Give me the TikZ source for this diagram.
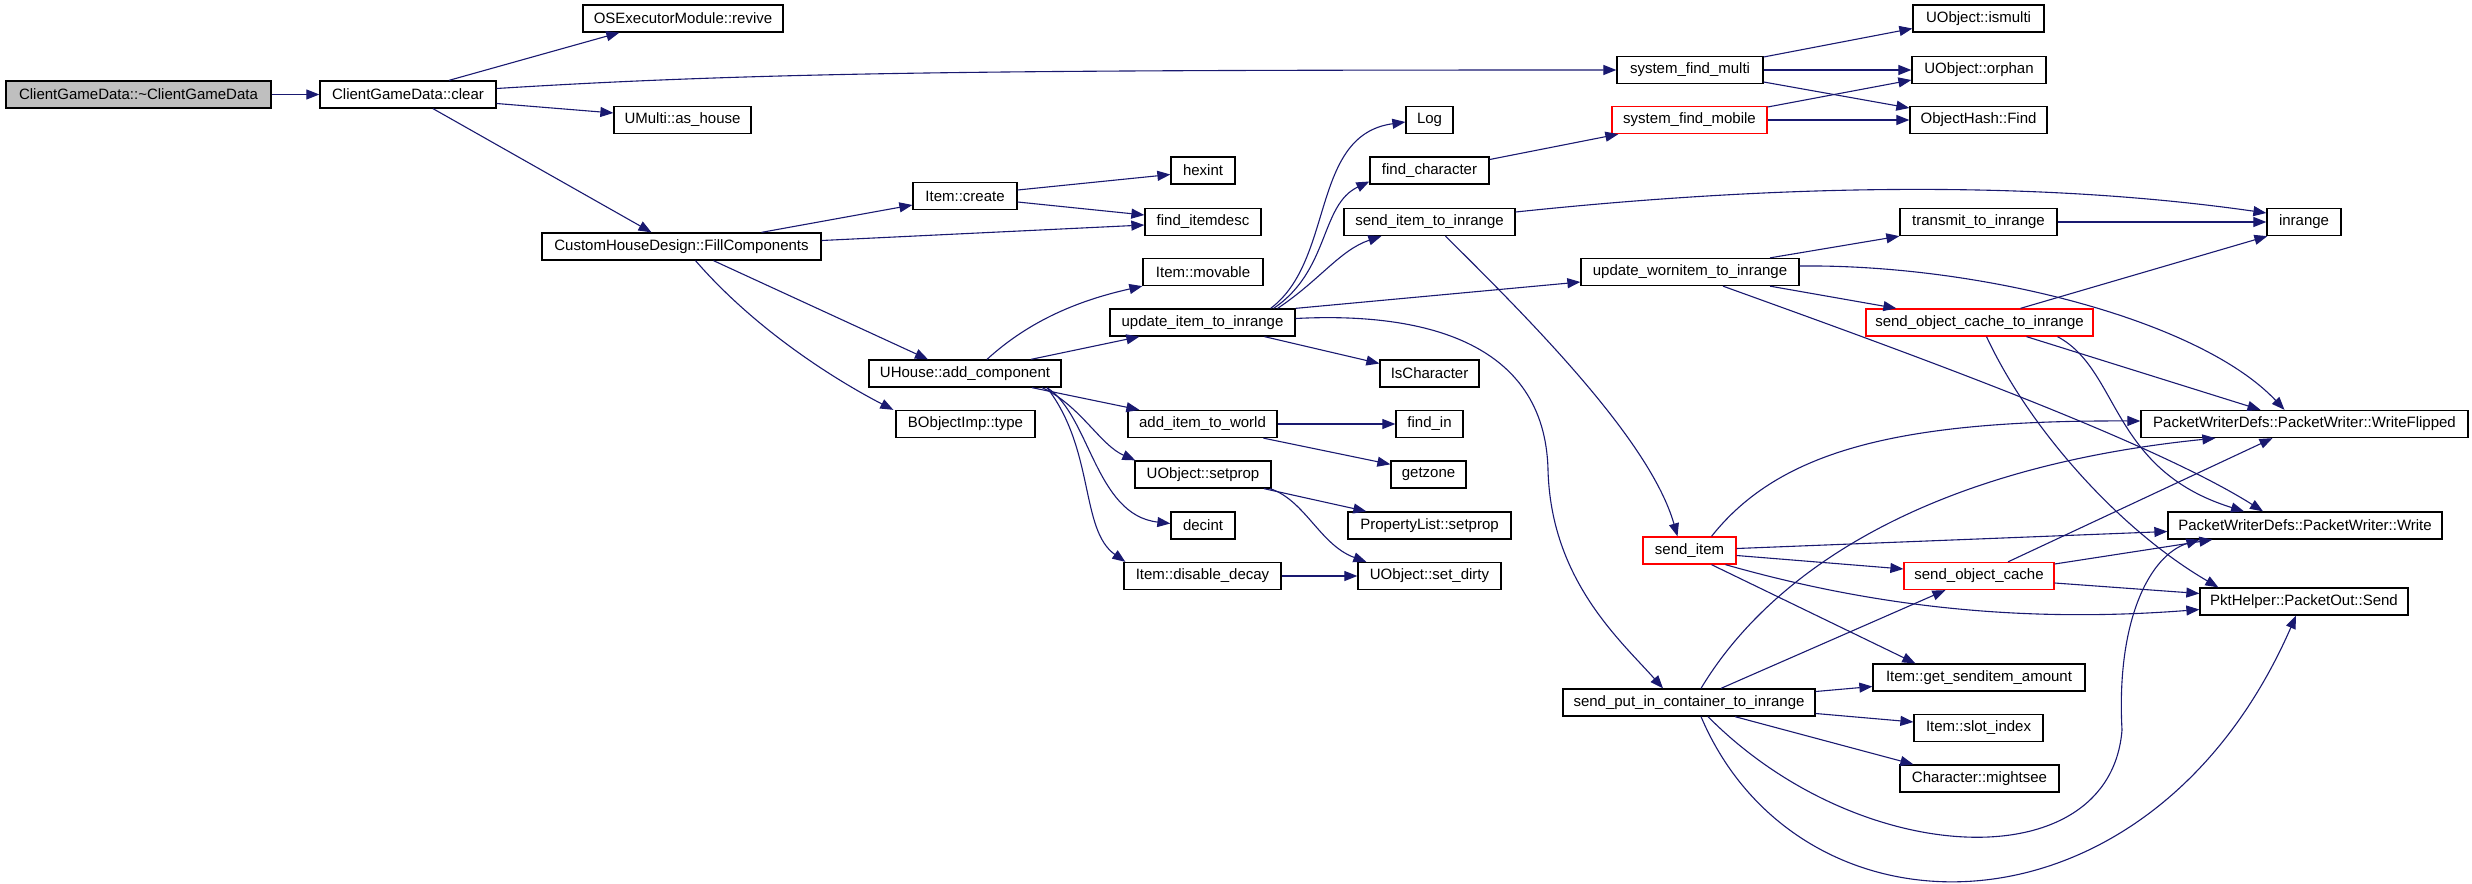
\documentclass[tikz,border=0pt]{standalone}
\usepackage{fontspec}
\setmainfont{Liberation Sans}
\usetikzlibrary{arrows.meta}
\definecolor{edgeblue}{RGB}{25,25,112}
\tikzset{
  fn/.style={draw=black, line width=1.3pt, rectangle, minimum height=27pt, inner sep=0pt, font=\fontsize{15}{18}\selectfont},
  hot/.style={fn, draw=red},
  root/.style={fn, fill=black!25},
  call/.style={edgeblue, line width=1.1pt, -{Triangle[length=13pt,width=10pt]}}
}

\begin{document}
\begin{tikzpicture}[x=1pt, y=-1pt]
		%%%%% START %%%%%
		\useasboundingbox (0,0) rectangle (2472,883);
		
		\node[root, minimum width=265pt] (dtor) at (138.5,94.5) {ClientGameData::\textasciitilde ClientGameData};
		\node[fn, minimum width=176pt] (clear) at (408,94.5) {ClientGameData::clear};
		\node[fn, minimum width=200pt] (revive) at (683,18.5) {OSExecutorModule::revive};
		\node[fn, minimum width=137pt] (asHouse) at (682.5,120) {UMulti::as\_house};
		\node[fn, minimum width=279pt] (fill) at (681.5,246.5) {CustomHouseDesign::FillComponents};
		
		\node[fn, minimum width=146pt] (sysMulti) at (1690,70) {system\_find\_multi};
		\node[hot, minimum width=155pt] (sysMobile) at (1689.5,120) {system\_find\_mobile};
		\node[fn, minimum width=131pt] (ismulti) at (1978.5,18.5) {UObject::ismulti};
		\node[fn, minimum width=134pt] (orphan) at (1979,70) {UObject::orphan};
		\node[fn, minimum width=137pt] (hashFind) at (1978.5,120) {ObjectHash::Find};
		
		\node[fn, minimum width=47pt] (log) at (1429.5,120) {Log};
		\node[fn, minimum width=119pt] (findChar) at (1429.5,170.5) {find\_character};
		\node[fn, minimum width=171pt] (sendItemIR) at (1429.5,222) {send\_item\_to\_inrange};
		\node[fn, minimum width=64pt] (hexint) at (1203,170.5) {hexint};
		\node[fn, minimum width=104pt] (create) at (965,196) {Item::create};
		\node[fn, minimum width=116pt] (itemdesc) at (1203,222) {find\_itemdesc};
		\node[fn, minimum width=120pt] (movable) at (1203,272) {Item::movable};
		\node[fn, minimum width=218pt] (updWorn) at (1690,272) {update\_wornitem\_to\_inrange};
		\node[fn, minimum width=157pt] (transmit) at (1978.5,222) {transmit\_to\_inrange};
		\node[fn, minimum width=74pt] (inrange) at (2304,222) {inrange};
		
		\node[fn, minimum width=185pt] (updItem) at (1202.5,322.5) {update\_item\_to\_inrange};
		\node[fn, minimum width=192pt] (addComp) at (965,373.5) {UHouse::add\_component};
		\node[fn, minimum width=99pt] (isChar) at (1429.5,373.5) {IsCharacter};
		\node[fn, minimum width=139pt] (bType) at (965.5,424) {BObjectImp::type};
		\node[fn, minimum width=149pt] (addWorld) at (1202.5,424) {add\_item\_to\_world};
		\node[fn, minimum width=67pt] (findIn) at (1429.5,424) {find\_in};
		\node[fn, minimum width=136pt] (setprop) at (1203,474.5) {UObject::setprop};
		\node[fn, minimum width=75pt] (getzone) at (1428.5,474.5) {getzone};
		\node[fn, minimum width=64pt] (decint) at (1203,525.5) {decint};
		\node[fn, minimum width=163pt] (plSetprop) at (1429.5,525.5) {PropertyList::setprop};
		\node[fn, minimum width=157pt] (disDecay) at (1202.5,576) {Item::disable\_decay};
		\node[fn, minimum width=143pt] (setDirty) at (1429.5,576) {UObject::set\_dirty};
		
		\node[hot, minimum width=227pt] (socIR) at (1979.5,322.5) {send\_object\_cache\_to\_inrange};
		\node[fn, minimum width=327pt] (wflip) at (2304.5,424) {PacketWriterDefs::PacketWriter::WriteFlipped};
		\node[fn, minimum width=274pt] (write) at (2305,525.5) {PacketWriterDefs::PacketWriter::Write};
		\node[hot, minimum width=93pt] (sendItem) at (1689.5,550.5) {send\_item};
		\node[hot, minimum width=150pt] (soc) at (1979,576) {send\_object\_cache};
		\node[fn, minimum width=208pt] (send) at (2304,601.5) {PktHelper::PacketOut::Send};
		\node[fn, minimum width=252pt] (putIn) at (1689,702.5) {send\_put\_in\_container\_to\_inrange};
		\node[fn, minimum width=212pt] (amount) at (1979,677.5) {Item::get\_senditem\_amount};
		\node[fn, minimum width=129pt] (slot) at (1978.5,728) {Item::slot\_index};
		\node[fn, minimum width=159pt] (mightsee) at (1979.5,778.5) {Character::mightsee};
		
		\draw[call] (dtor) -- (clear);
		\draw[call] ([xshift=41pt]clear.north) -- ([xshift=37pt]revive.south west);
		\draw[call] ([yshift=6pt]clear.east) .. controls (760,72) and (1000,70) .. (sysMulti.west);
		\draw[call] ([yshift=-9pt]clear.east) -- ([yshift=7pt]asHouse.west);
		\draw[call] ([xshift=25pt]clear.south) -- ([xshift=-30pt]fill.north);
		
		\draw[call] ([xshift=80pt]fill.north) -- ([yshift=-9pt]create.west);
		\draw[call] ([yshift=6pt]fill.east) -- ([yshift=-3pt]itemdesc.west);
		\draw[call] ([xshift=32pt]fill.south) -- ([xshift=-37pt]addComp.north);
		\draw[call] ([xshift=14pt]fill.south) .. controls (760,335) and (845,385) .. ([xshift=-2pt]bType.north west);
		\draw[call] ([yshift=6pt]create.east) -- ([yshift=-4pt]hexint.west);
		\draw[call] ([yshift=-6pt]create.east) -- ([yshift=7pt]itemdesc.west);
		
		\draw[call] ([xshift=22pt]addComp.north) .. controls (1030,320) and (1080,300) .. (movable.south west);
		\draw[call] ([xshift=66pt]addComp.north) -- ([xshift=30pt]updItem.south west);
		\draw[call] ([xshift=67pt]addComp.south) -- ([xshift=12pt]addWorld.north west);
		\draw[call] ([xshift=77pt]addComp.south) .. controls (1080,405) and (1100,445) .. ([xshift=1pt]setprop.north west);
		\draw[call] ([xshift=82pt]addComp.south) .. controls (1090,415) and (1095,515) .. ([yshift=2pt]decint.west);
		\draw[call] ([xshift=82pt]addComp.south) .. controls (1095,450) and (1080,530) .. ([xshift=2pt]disDecay.north west);
		
		\draw[call] ([xshift=-25pt]updItem.north east) .. controls (1335,260) and (1310,135) .. ([yshift=-2pt]log.west);
		\draw[call] ([xshift=-22pt]updItem.north east) .. controls (1330,270) and (1320,205) .. ([yshift=-11pt]findChar.west);
		\draw[call] ([xshift=-18pt]updItem.north east) .. controls (1320,280) and (1340,250) .. ([xshift=38pt]sendItemIR.south west);
		\draw[call] (updItem.north east) -- ([yshift=-10pt]updWorn.west);
		\draw[call] ([xshift=62pt]updItem.south) -- ([yshift=10pt]isChar.west);
		\draw[call] ([yshift=4pt]updItem.east) .. controls (1420,312) and (1545,340) .. (1548,470) .. controls (1551,580) and (1620,640) .. ([xshift=-26pt]putIn.north);
		
		\draw[call] (addWorld) -- (findIn);
		\draw[call] ([xshift=61pt]addWorld.south) -- ([yshift=-4pt]getzone.north west);
		\draw[call] ([xshift=61pt]setprop.south) -- ([xshift=19pt]plSetprop.north west);
		\draw[call] ([xshift=67pt]setprop.south) .. controls (1305,500) and (1320,545) .. ([xshift=9pt]setDirty.north west);
		\draw[call] (disDecay) -- (setDirty);
		
		\draw[call] ([yshift=11pt]findChar.east) -- ([xshift=7pt]sysMobile.south west);
		\draw[call] ([yshift=13pt]sysMulti.east) -- ([yshift=-10pt]ismulti.west);
		\draw[call] (sysMulti) -- (orphan);
		\draw[call] ([yshift=-12pt]sysMulti.east) -- ([yshift=12pt]hashFind.west);
		\draw[call] ([yshift=13pt]sysMobile.east) -- ([yshift=-10pt]orphan.west);
		\draw[call] (sysMobile) -- (hashFind);
		
		\draw[call] ([yshift=10pt]sendItemIR.east) .. controls (1800,182) and (2050,182) .. ([yshift=9pt]inrange.west);
		\draw[call] ([xshift=16pt]sendItemIR.south) .. controls (1530,320) and (1650,440) .. ([xshift=-12pt]sendItem.north);
		
		\draw[call] ([xshift=80pt]updWorn.north) -- (transmit.south west);
		\draw[call] ([xshift=80pt]updWorn.south) -- ([xshift=31pt]socIR.north west);
		\draw[call] ([yshift=6pt]updWorn.east) .. controls (1980,264) and (2200,320) .. ([xshift=-20pt]wflip.north);
		\draw[call] ([xshift=33pt]updWorn.south) .. controls (1900,350) and (2150,440) .. ([xshift=-42pt]write.north);
		\draw[call] (transmit) -- (inrange);
		
		\draw[call] ([xshift=41pt]socIR.north) -- ([xshift=1pt]inrange.south west);
		\draw[call] ([xshift=47pt]socIR.south) -- ([xshift=-44pt]wflip.north);
		\draw[call] ([xshift=78pt]socIR.south) .. controls (2120,370) and (2110,470) .. ([xshift=-61pt]write.north);
		\draw[call] ([xshift=7pt]socIR.south) .. controls (2030,430) and (2120,530) .. ([xshift=19pt]send.north west);
		
		\draw[call] ([xshift=22pt]sendItem.north) .. controls (1780,450) and (1900,420) .. ([yshift=3pt]wflip.west);
		\draw[call] ([yshift=2pt]sendItem.east) -- ([yshift=-6pt]write.west);
		\draw[call] ([yshift=-5pt]sendItem.east) -- ([yshift=7pt]soc.west);
		\draw[call] ([xshift=36pt]sendItem.south) .. controls (1850,600) and (2000,625) .. ([yshift=-8pt]send.west);
		\draw[call] ([xshift=22pt]sendItem.south) -- ([xshift=43pt]amount.north west);
		
		\draw[call] ([xshift=29pt]soc.north) -- ([xshift=-32pt]wflip.south);
		\draw[call] ([yshift=12pt]soc.east) -- ([xshift=45pt]write.south west);
		\draw[call] ([yshift=-7pt]soc.east) -- ([yshift=8pt]send.west);
		
		\draw[call] ([xshift=12pt]putIn.north) .. controls (1760,590) and (1900,470) .. ([xshift=75pt]wflip.south west);
		\draw[call] ([xshift=32pt]putIn.north) -- ([xshift=42pt]soc.south west);
		\draw[call] ([yshift=11pt]putIn.east) -- ([yshift=-9pt]amount.west);
		\draw[call] ([yshift=-11pt]putIn.east) -- ([yshift=6pt]slot.west);
		\draw[call] ([xshift=46pt]putIn.south) -- ([xshift=14pt]mightsee.north west);
		\draw[call] ([xshift=19pt]putIn.south) .. controls (1860,870) and (2110,880) .. (2122,730) .. controls (2116,620) and (2150,555) .. ([xshift=32pt]write.south west);
		\draw[call] ([xshift=12pt]putIn.south) .. controls (1800,950) and (2150,950) .. ([xshift=-8pt]send.south);
		
		%%%%% END %%%%%
	\end{tikzpicture}
\end{document}
